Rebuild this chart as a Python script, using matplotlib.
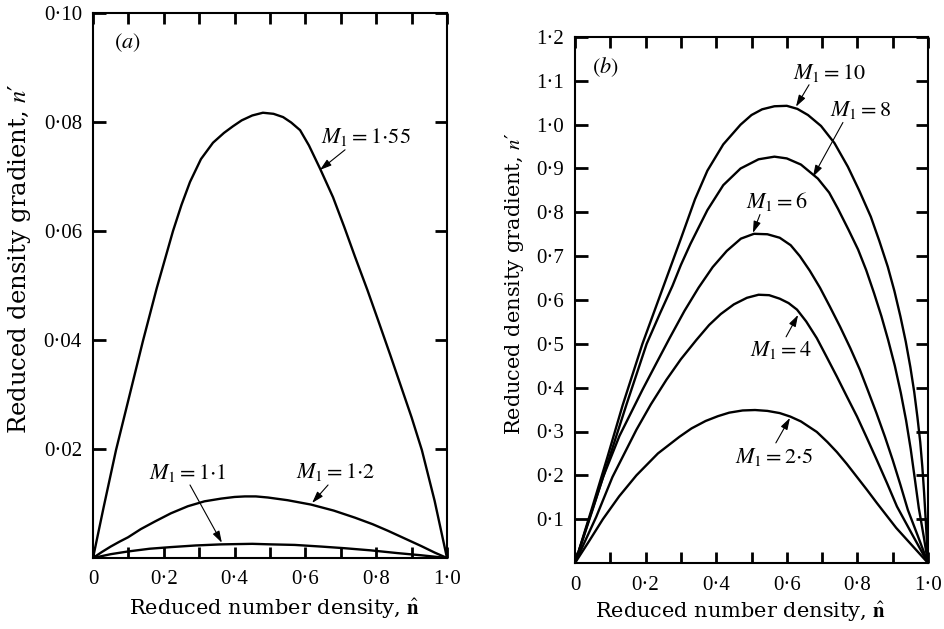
import matplotlib
matplotlib.use('Agg')
import matplotlib.pyplot as plt

plt.rcParams['mathtext.fontset'] = 'stix'
plt.rcParams['font.family'] = ['DejaVu Serif']

# ---------------- Panel (a) data ----------------
a_m155_x = [0.0, 0.03, 0.065, 0.10, 0.141, 0.18, 0.226, 0.25, 0.274, 0.305, 0.339, 0.37, 0.395, 0.42,
            0.45, 0.48, 0.51, 0.537, 0.56, 0.585, 0.61, 0.641, 0.678, 0.71, 0.74, 0.775, 0.805, 0.84,
            0.87, 0.90, 0.929, 0.965, 1.0]
a_m155_y = [0.0, 0.0093, 0.0198, 0.0290, 0.0398, 0.0495, 0.0600, 0.0648, 0.0690, 0.0732, 0.0762, 0.0780,
            0.0792, 0.0803, 0.0812, 0.0817, 0.0815, 0.0809, 0.0799, 0.0785, 0.0757, 0.0715, 0.0662,
            0.0607, 0.0553, 0.0492, 0.0437, 0.0372, 0.0315, 0.0258, 0.0198, 0.0105, 0.0]

a_m12_x = [0.0, 0.025, 0.05, 0.075, 0.099, 0.135, 0.175, 0.22, 0.268, 0.315, 0.362, 0.40, 0.429,
           0.46, 0.494, 0.55, 0.616, 0.68, 0.74, 0.79, 0.833, 0.88, 0.927, 0.965, 1.0]
a_m12_y = [0.0, 0.0011, 0.0021, 0.0030, 0.0038, 0.0053, 0.0067, 0.0082, 0.0095, 0.0104, 0.0109,
           0.0112, 0.0113, 0.0113, 0.0111, 0.0106, 0.0098, 0.0087, 0.0074, 0.0062, 0.0050, 0.0036,
           0.0022, 0.0010, 0.0]

a_m11_x = [0.0, 0.05, 0.099, 0.16, 0.22, 0.29, 0.362, 0.45, 0.503, 0.57, 0.644, 0.71, 0.785,
           0.86, 0.927, 1.0]
a_m11_y = [0.0, 0.0007, 0.0012, 0.0017, 0.0020, 0.0023, 0.0025, 0.0026, 0.0025, 0.0024, 0.0021,
           0.0018, 0.0014, 0.0009, 0.0005, 0.0]

# ---------------- Panel (b) data ----------------
b_m10_x = [0.0, 0.05, 0.092, 0.135, 0.191, 0.25, 0.30, 0.34, 0.375, 0.42, 0.469, 0.50, 0.53, 0.565,
           0.60, 0.63, 0.66, 0.697, 0.735, 0.773, 0.805, 0.838, 0.862, 0.886, 0.905, 0.922, 0.937,
           0.95, 0.961, 0.97, 0.978, 0.984, 0.989, 0.993, 0.997, 1.0]
b_m10_y = [0.0, 0.13, 0.242, 0.360, 0.50, 0.63, 0.74, 0.83, 0.895, 0.955, 1.000, 1.022, 1.035, 1.042,
           1.043, 1.036, 1.022, 0.997, 0.958, 0.904, 0.85, 0.79, 0.735, 0.676, 0.62, 0.562, 0.505,
           0.447, 0.39, 0.333, 0.276, 0.219, 0.16, 0.105, 0.05, 0.0]

b_m8_x = [0.0, 0.05, 0.098, 0.146, 0.203, 0.24, 0.276, 0.30, 0.327, 0.35, 0.375, 0.42, 0.469, 0.52,
          0.565, 0.60, 0.64, 0.688, 0.72, 0.745, 0.775, 0.802, 0.825, 0.847, 0.868, 0.887, 0.906,
          0.923, 0.938, 0.951, 0.963, 0.974, 0.988, 1.0]
b_m8_y = [0.0, 0.122, 0.242, 0.362, 0.50, 0.568, 0.632, 0.68, 0.728, 0.765, 0.805, 0.862, 0.900,
          0.921, 0.927, 0.923, 0.909, 0.877, 0.845, 0.808, 0.76, 0.715, 0.668, 0.616, 0.563, 0.509,
          0.45, 0.388, 0.325, 0.26, 0.19, 0.125, 0.06, 0.0]

b_m6_x = [0.0, 0.04, 0.079, 0.126, 0.191, 0.23, 0.268, 0.31, 0.35, 0.39, 0.43, 0.47, 0.507, 0.545,
          0.58, 0.611, 0.637, 0.665, 0.694, 0.722, 0.751, 0.78, 0.807, 0.83, 0.854, 0.878, 0.90,
          0.922, 0.943, 0.972, 1.0]
b_m6_y = [0.0, 0.10, 0.195, 0.29, 0.395, 0.455, 0.513, 0.575, 0.628, 0.675, 0.712, 0.740, 0.751,
          0.750, 0.742, 0.725, 0.700, 0.667, 0.628, 0.585, 0.539, 0.49, 0.441, 0.393, 0.342, 0.288,
          0.235, 0.178, 0.121, 0.06, 0.0]

b_m4_x = [0.0, 0.06, 0.106, 0.174, 0.215, 0.259, 0.30, 0.344, 0.38, 0.413, 0.45, 0.487, 0.52, 0.55,
          0.58, 0.605, 0.629, 0.655, 0.685, 0.713, 0.742, 0.77, 0.799, 0.827, 0.855, 0.884, 0.912,
          0.956, 1.0]
b_m4_y = [0.0, 0.105, 0.196, 0.304, 0.362, 0.418, 0.465, 0.509, 0.543, 0.568, 0.590, 0.605, 0.612,
          0.611, 0.603, 0.593, 0.578, 0.551, 0.513, 0.47, 0.425, 0.38, 0.334, 0.285, 0.235, 0.182,
          0.129, 0.064, 0.0]

b_m25_x = [0.0, 0.04, 0.079, 0.125, 0.174, 0.235, 0.296, 0.33, 0.37, 0.405, 0.437, 0.475, 0.51,
           0.545, 0.58, 0.61, 0.64, 0.685, 0.715, 0.742, 0.77, 0.799, 0.827, 0.855, 0.883, 0.91,
           0.955, 1.0]
b_m25_y = [0.0, 0.05, 0.10, 0.152, 0.20, 0.25, 0.288, 0.307, 0.324, 0.335, 0.343, 0.348, 0.349,
           0.347, 0.342, 0.334, 0.323, 0.299, 0.276, 0.253, 0.226, 0.196, 0.167, 0.137, 0.108, 0.08,
           0.04, 0.0]

x_ticks = [0.0, 0.2, 0.4, 0.6, 0.8, 1.0]
x_ticklabels = ['0', '0·2', '0·4', '0·6', '0·8', '1·0']
a_yticks = [0.02, 0.04, 0.06, 0.08, 0.10]
a_yticklabels = ['0·02', '0·04', '0·06', '0·08', '0·10']
b_yticks = [0.1, 0.2, 0.3, 0.4, 0.5, 0.6, 0.7, 0.8, 0.9, 1.0, 1.1, 1.2]
b_yticklabels = ['0·1', '0·2', '0·3', '0·4', '0·5', '0·6', '0·7', '0·8', '0·9', '1·0', '1·1', '1·2']
minor_x = [0.1, 0.3, 0.5, 0.7, 0.9]

W, H = 945, 629
fig = plt.figure(figsize=(W / 100, H / 100), dpi=100)
axA = fig.add_axes([93 / W, 1 - 558 / H, (447 - 93) / W, (558 - 13) / H])
axB = fig.add_axes([575 / W, 1 - 563 / H, (928 - 575) / W, (563 - 37) / H])

LW = 1.7
TICKFONT = dict(family='Liberation Serif', size=15)

def style(ax, yticks, ylabels, ytop):
    ax.set_xlim(0, 1.0)
    ax.set_ylim(0, ytop)
    ax.set_xticks(x_ticks)
    ax.set_xticklabels(x_ticklabels, fontdict=TICKFONT)
    ax.set_xticks(minor_x, minor=True)
    ax.set_yticks(yticks)
    ax.set_yticklabels(ylabels, fontdict=TICKFONT)
    ax.xaxis.set_ticks_position('both')
    ax.yaxis.set_ticks_position('both')
    ax.tick_params(axis='x', which='both', direction='in', width=2.0, length=8,
                   color='black', top=True, bottom=True, labeltop=False, labelbottom=True)
    ax.tick_params(axis='y', which='both', direction='in', width=2.0, length=9,
                   color='black', left=True, right=True, labelright=False, labelleft=True)
    ax.tick_params(axis='x', which='major', pad=9)
    ax.tick_params(axis='y', which='major', pad=8)
    for s in ax.spines.values():
        s.set_linewidth(1.5)

def arrow(ax, head, tail):
    ax.annotate('', xy=head, xytext=tail,
                arrowprops=dict(arrowstyle='-|>,head_length=0.7,head_width=0.22',
                                lw=0.8, color='k', shrinkA=0, shrinkB=0))

LBL = 16

# ---- Panel (a)
for xs, ys in [(a_m155_x, a_m155_y), (a_m12_x, a_m12_y), (a_m11_x, a_m11_y)]:
    axA.plot(xs, ys, color='k', lw=LW, solid_joinstyle='round', solid_capstyle='round')
style(axA, a_yticks, a_yticklabels, 0.10)
axA.set_xlabel(r'Reduced number density, $\hat{\mathbf{n}}$', fontsize=15)
axA.xaxis.set_label_coords(0.514, -0.072)
axA.set_ylabel("Reduced density gradient, $n$\u2032", fontsize=17.5)
axA.yaxis.set_label_coords(-0.17, 0.55)

axA.text(0.096, 0.0945, r'$(a)$', fontsize=LBL, ha='center', va='center')
axA.text(0.645, 0.0773, r'$M_1 = 1{\cdot}55$', fontsize=LBL, ha='left', va='center')
arrow(axA, (0.641, 0.0712), (0.712, 0.0749))
axA.text(0.267, 0.0156, r'$M_1 = 1{\cdot}1$', fontsize=LBL, ha='center', va='center')
arrow(axA, (0.364, 0.0028), (0.274, 0.0134))
axA.text(0.685, 0.0158, r'$M_1 = 1{\cdot}2$', fontsize=LBL, ha='center', va='center')
arrow(axA, (0.619, 0.0101), (0.664, 0.0134))

# ---- Panel (b)
for xs, ys in [(b_m10_x, b_m10_y), (b_m8_x, b_m8_y), (b_m6_x, b_m6_y),
               (b_m4_x, b_m4_y), (b_m25_x, b_m25_y)]:
    axB.plot(xs, ys, color='k', lw=LW, solid_joinstyle='round', solid_capstyle='round')
style(axB, b_yticks, b_yticklabels, 1.2)
axB.set_xlabel(r'Reduced number density, $\hat{\mathbf{n}}$', fontsize=15)
axB.xaxis.set_label_coords(0.47, -0.070)
axB.set_ylabel("Reduced density gradient, $n$\u2032", fontsize=15)
axB.yaxis.set_label_coords(-0.14, 0.53)

axB.text(0.085, 1.132, r'$(b)$', fontsize=LBL, ha='center', va='center')
axB.text(0.72, 1.119, r'$M_1 = 10$', fontsize=LBL, ha='center', va='center')
arrow(axB, (0.626, 1.041), (0.663, 1.091))
axB.text(0.808, 1.034, r'$M_1 = 8$', fontsize=LBL, ha='center', va='center')
arrow(axB, (0.674, 0.881), (0.759, 1.005))
axB.text(0.573, 0.824, r'$M_1 = 6$', fontsize=LBL, ha='center', va='center')
arrow(axB, (0.504, 0.753), (0.524, 0.795))
axB.text(0.583, 0.486, r'$M_1 = 4$', fontsize=LBL, ha='center', va='center')
arrow(axB, (0.632, 0.566), (0.598, 0.516))
axB.text(0.566, 0.242, r'$M_1 = 2{\cdot}5$', fontsize=LBL, ha='center', va='center')
arrow(axB, (0.609, 0.331), (0.569, 0.274))

fig.savefig('out.png', dpi=100)
